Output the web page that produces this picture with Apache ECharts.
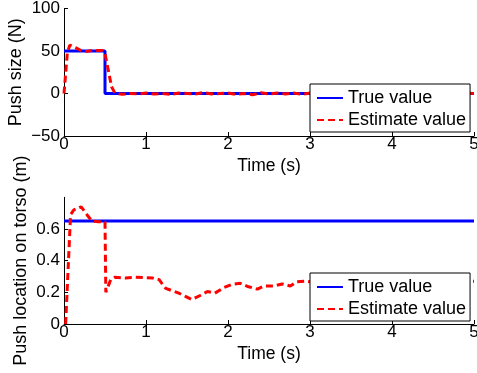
<!DOCTYPE html>
<html>
<head>
<meta charset="utf-8">
<script src="https://cdn.jsdelivr.net/npm/echarts@6/dist/echarts.min.js"></script>
<style>
  html, body { margin: 0; padding: 0; background: #fff; }
  #chart { width: 477px; height: 373px; }
</style>
</head>
<body>
<div id="chart"></div>
<script>
// push size plot (N)
const forceTrueT = [0, 0.5, 0.5, 5];
const forceTrue = [50, 50, 0, 0];
const forceEstT = [0, 0.01, 0.04, 0.07, 0.14, 0.24, 0.34, 0.47, 0.5, 0.54, 0.58, 0.62, 0.71, 0.8, 0.9, 1.0,
  1.1, 1.2, 1.3, 1.4, 1.5, 1.6, 1.7, 1.8, 1.9, 2.0, 2.1, 2.2, 2.3, 2.4, 2.5, 2.6, 2.7, 2.8, 2.9, 3.0,
  3.2, 3.4, 3.6, 3.8, 4.0, 4.2, 4.4, 4.6, 4.8, 5.0];
const forceEst = [0, 1, 47, 57, 54, 49, 50.5, 50.5, 47, 27.5, 8, 0.7, -1, 0, -0.5, 0.5,
  -0.5, 0, -1, 0.5, 0, -0.5, 1, -0.5, 0, 0.5, -1, 0, -1.5, 1, -0.5, 0.5, -0.5, 0.5, -1, 0.5,
  0, -0.5, 0.5, 0, -0.5, 0.5, 0, -0.5, 0.5, 0];

// push location plot (m)
const locTrueT = [0, 5];
const locTrue = [0.65, 0.65];
const locEstT = [0.02, 0.03, 0.08, 0.12, 0.21, 0.28, 0.34, 0.42, 0.5, 0.51, 0.57, 0.62, 0.75, 0.87, 1.08,
  1.16, 1.24, 1.4, 1.48, 1.56, 1.66, 1.75, 1.84, 1.95, 2.05, 2.15, 2.25, 2.36, 2.44, 2.56, 2.66, 2.76,
  2.84, 2.94, 3.0, 3.3, 3.6, 3.9, 4.2, 4.5, 4.8, 5.0];
const locEst = [0, 0, 0.69, 0.72, 0.74, 0.69, 0.65, 0.645, 0.645, 0.20, 0.28, 0.295, 0.29, 0.295, 0.29,
  0.28, 0.225, 0.195, 0.175, 0.155, 0.18, 0.205, 0.195, 0.23, 0.25, 0.257, 0.235, 0.22, 0.24, 0.24, 0.253, 0.24,
  0.267, 0.27, 0.267, 0.27, 0.275, 0.27, 0.28, 0.275, 0.27, 0.27];

const timeTicks = [0, 1, 2, 3, 4, 5];
const legendNames = ['True value', 'Estimate value'];

const font = 'Liberation Sans, Arial, Helvetica, sans-serif';
const pair = (t, v) => t.map((x, i) => [x, v[i]]);

function xAxisFor(idx) {
  return {
    type: 'value', gridIndex: idx, min: timeTicks[0], max: timeTicks[timeTicks.length - 1], interval: 1,
    name: 'Time (s)', nameLocation: 'middle', nameGap: 21, nameMoveOverlap: false,
    nameTextStyle: { color: '#000', fontSize: 17.5, fontFamily: font },
    axisLine: { onZero: false, lineStyle: { color: '#000', width: 1 } },
    axisTick: { inside: true, length: 4, lineStyle: { color: '#000' } },
    axisLabel: { color: '#000', fontSize: 17, fontFamily: font, margin: 0 },
    splitLine: { show: false }
  };
}

function legendAt(top) {
  return {
    orient: 'vertical', left: 310, top: top, data: legendNames,
    backgroundColor: '#fff', borderColor: '#000', borderWidth: 1, borderRadius: 0,
    padding: [4, 4, 2, 6], itemGap: 2, itemWidth: 26, itemHeight: 14,
    itemStyle: { opacity: 0 },
    textStyle: { color: '#000', fontSize: 18, fontFamily: font, lineHeight: 20 },
    selectedMode: false
  };
}

const blue = { color: '#0000ff', width: 3, type: 'solid' };
const red = { color: '#ff0000', width: 3, type: [7, 4] };

const option = {
  animation: false,
  backgroundColor: '#fff',
  grid: [
    { left: 64, right: 3, top: 8.5, height: 127.5, outerBoundsMode: 'none' },
    { left: 64, right: 3, top: 197.3, height: 126.7, outerBoundsMode: 'none' }
  ],
  legend: [legendAt(84), legendAt(273)],
  xAxis: [xAxisFor(0), xAxisFor(1)],
  yAxis: [
    {
      type: 'value', gridIndex: 0, min: -50, max: 100, interval: 50,
      name: 'Push size (N)', nameLocation: 'middle', nameGap: 39, nameMoveOverlap: false,
      nameTextStyle: { color: '#000', fontSize: 18, fontFamily: font },
      axisLine: { show: true, onZero: false, lineStyle: { color: '#000', width: 1 } },
      axisTick: { show: true, inside: true, length: 4, lineStyle: { color: '#000' } },
      axisLabel: { color: '#000', fontSize: 17, fontFamily: font, margin: 4,
        formatter: v => (v < 0 ? '\u2212' + Math.abs(v) : String(v)) },
      splitLine: { show: false }
    },
    {
      type: 'value', gridIndex: 1, min: 0, max: 0.8, interval: 0.2,
      name: 'Push location on torso (m)', nameLocation: 'middle', nameGap: 33.5, nameMoveOverlap: false,
      nameTextStyle: { color: '#000', fontSize: 18, fontFamily: font },
      axisLine: { show: true, onZero: false, lineStyle: { color: '#000', width: 1 } },
      axisTick: { show: true, inside: true, length: 4, lineStyle: { color: '#000' } },
      axisLabel: { color: '#000', fontSize: 17, fontFamily: font, margin: 4, showMaxLabel: false,
        formatter: v => (v === 0 ? '0' : String(Math.round(v * 10) / 10)) },
      splitLine: { show: false }
    }
  ],
  series: [
    { name: 'True value', type: 'line', xAxisIndex: 0, yAxisIndex: 0, data: pair(forceTrueT, forceTrue),
      symbol: 'none', lineStyle: blue, itemStyle: { color: blue.color } },
    { name: 'Estimate value', type: 'line', xAxisIndex: 0, yAxisIndex: 0, data: pair(forceEstT, forceEst),
      symbol: 'none', lineStyle: red, itemStyle: { color: red.color } },
    { name: 'True value', type: 'line', xAxisIndex: 1, yAxisIndex: 1, data: pair(locTrueT, locTrue),
      symbol: 'none', lineStyle: blue, itemStyle: { color: blue.color } },
    { name: 'Estimate value', type: 'line', xAxisIndex: 1, yAxisIndex: 1, data: pair(locEstT, locEst),
      symbol: 'none', lineStyle: red, itemStyle: { color: red.color } }
  ]
};

const chart = echarts.init(document.getElementById('chart'));
chart.setOption(option);
</script>
</body>
</html>
